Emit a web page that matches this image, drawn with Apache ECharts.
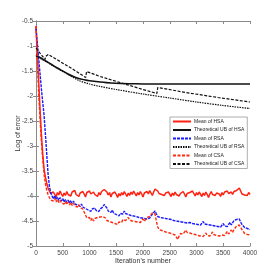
<!DOCTYPE html>
<html><head><meta charset="utf-8">
<script src="https://cdn.jsdelivr.net/npm/echarts@6/dist/echarts.min.js"></script>
<style>html,body{margin:0;padding:0;background:#fff}#c{width:277px;height:277px}</style>
</head><body><div id="c"></div>
<script>
// iteration step between samples of the noisy mean curves
const STEP = 25;
const xTicks = [0, 500, 1000, 1500, 2000, 2500, 3000, 3500, 4000];
const yTicks = [-5, -4.5, -4, -3.5, -3, -2.5, -2, -1.5, -1, -0.5];

const hsaMean = [
-0.60,-1.15,-1.70,-2.25,-2.75,-3.15,-3.45,-3.62,-3.74,-3.84,
-3.90,-3.95,-3.99,-3.92,-3.97,-4.02,-3.93,-3.98,-3.90,-3.96,
-4.01,-3.94,-3.99,-3.91,-3.97,-3.93,-4.00,-3.92,-3.96,-3.89,
-3.97,-3.93,-4.01,-3.94,-3.98,-3.91,-3.96,-4.02,-3.93,-3.97,
-3.90,-3.96,-4.00,-3.92,-3.97,-3.94,-4.01,-3.93,-3.98,-3.91,
-3.95,-3.87,-3.83,-3.92,-3.98,-3.93,-4.02,-3.95,-3.99,-3.92,
-3.97,-4.03,-3.95,-4.00,-3.93,-3.98,-3.91,-3.96,-4.01,-3.94,
-3.99,-3.92,-3.97,-3.90,-3.95,-4.00,-3.93,-3.98,-3.91,-3.96,
-4.02,-3.94,-3.98,-3.91,-3.96,-3.89,-3.94,-3.99,-3.92,-3.86,
-3.82,-3.90,-3.95,-3.91,-3.97,-3.93,-3.99,-3.94,-3.98,-3.92,
-3.96,-4.01,-3.94,-3.99,-3.92,-3.97,-3.93,-4.00,-3.95,-3.98,
-3.91,-3.96,-4.02,-3.95,-3.99,-3.93,-3.97,-3.90,-3.95,-4.00,
-3.93,-3.98,-3.92,-3.96,-4.01,-3.94,-3.99,-3.92,-3.97,-4.03,
-3.96,-3.91,-3.97,-3.93,-3.99,-3.94,-3.90,-3.96,-4.01,-3.93,
-3.98,-3.92,-3.96,-3.90,-3.95,-3.99,-3.92,-3.97,-3.91,-3.94,
-3.89,-3.93,-3.84,-3.90,-3.96,-3.92,-3.98,-3.94,-3.99,-3.93,
-3.97];

const rsaMean = [
-0.65,-0.95,-1.25,-1.55,-1.85,-2.12,-2.38,-2.75,-3.15,-3.55,
-3.80,-3.93,-4.00,-4.06,-3.99,-4.07,-4.02,-4.09,-4.03,-4.10,
-4.05,-4.12,-4.07,-4.13,-4.08,-4.14,-4.09,-4.15,-4.10,-4.16,
-4.12,-4.18,-4.14,-4.21,-4.16,-4.22,-4.19,-4.25,-4.22,-4.28,
-4.25,-4.31,-4.26,-4.30,-4.24,-4.29,-4.25,-4.31,-4.26,-4.29,
-4.22,-4.17,-4.14,-4.24,-4.30,-4.26,-4.33,-4.28,-4.34,-4.30,
-4.37,-4.33,-4.40,-4.35,-4.31,-4.36,-4.30,-4.35,-4.32,-4.37,
-4.33,-4.39,-4.35,-4.40,-4.36,-4.41,-4.37,-4.43,-4.39,-4.44,
-4.40,-4.45,-4.41,-4.46,-4.42,-4.44,-4.40,-4.36,-4.33,-4.30,
-4.36,-4.41,-4.38,-4.43,-4.39,-4.44,-4.40,-4.45,-4.41,-4.46,
-4.42,-4.47,-4.43,-4.49,-4.45,-4.50,-4.46,-4.51,-4.47,-4.52,
-4.48,-4.53,-4.49,-4.54,-4.50,-4.53,-4.49,-4.55,-4.51,-4.56,
-4.52,-4.57,-4.53,-4.58,-4.54,-4.51,-4.56,-4.52,-4.57,-4.53,
-4.58,-4.54,-4.59,-4.55,-4.60,-4.56,-4.61,-4.57,-4.62,-4.58,
-4.55,-4.60,-4.56,-4.61,-4.57,-4.53,-4.58,-4.54,-4.49,-4.53,
-4.47,-4.51,-4.46,-4.52,-4.57,-4.60,-4.63,-4.60,-4.65,-4.62,
-4.67];

const csaMean = [
-0.60,-1.30,-1.95,-2.45,-2.90,-3.25,-3.55,-3.75,-3.88,-3.97,
-4.03,-4.08,-4.04,-4.10,-4.05,-4.12,-4.07,-4.13,-4.08,-4.14,
-4.10,-4.16,-4.11,-4.17,-4.12,-4.18,-4.13,-4.19,-4.14,-4.20,
-4.16,-4.22,-4.17,-4.23,-4.19,-4.26,-4.30,-4.38,-4.44,-4.48,
-4.43,-4.49,-4.44,-4.50,-4.45,-4.48,-4.43,-4.47,-4.42,-4.46,
-4.41,-4.38,-4.44,-4.49,-4.45,-4.51,-4.47,-4.53,-4.49,-4.55,
-4.51,-4.57,-4.52,-4.48,-4.53,-4.47,-4.44,-4.49,-4.45,-4.43,
-4.48,-4.44,-4.50,-4.46,-4.51,-4.47,-4.52,-4.48,-4.53,-4.49,
-4.46,-4.51,-4.47,-4.43,-4.46,-4.41,-4.38,-4.34,-4.31,-4.36,
-4.50,-4.62,-4.67,-4.63,-4.69,-4.65,-4.71,-4.67,-4.73,-4.69,
-4.74,-4.70,-4.76,-4.72,-4.78,-4.74,-4.87,-4.80,-4.75,-4.71,
-4.76,-4.72,-4.68,-4.73,-4.69,-4.74,-4.70,-4.76,-4.72,-4.77,
-4.73,-4.79,-4.75,-4.80,-4.76,-4.81,-4.77,-4.74,-4.79,-4.75,
-4.80,-4.76,-4.72,-4.77,-4.73,-4.79,-4.75,-4.80,-4.76,-4.78,
-4.74,-4.79,-4.75,-4.71,-4.76,-4.72,-4.68,-4.73,-4.67,-4.64,
-4.60,-4.64,-4.58,-4.62,-4.67,-4.71,-4.75,-4.72,-4.77,-4.74,
-4.78];

// theoretical upper bounds: [iteration, log error]
const hsaUB = [[0,-1.18],[100,-1.245],[200,-1.31],[300,-1.375],[400,-1.44],[500,-1.50],[600,-1.56],[700,-1.61],[800,-1.65],[900,-1.675],[1000,-1.695],[1200,-1.72],[1400,-1.74],[1600,-1.75],[1800,-1.755],[2000,-1.76],[4000,-1.76]];
const rsaUB = [[0,-1.20],[200,-1.32],[400,-1.45],[600,-1.57],[800,-1.69],[1000,-1.76],[1200,-1.81],[1500,-1.87],[2000,-1.96],[2500,-2.04],[3000,-2.12],[3500,-2.19],[4000,-2.25]];
const csaUB = [[0,-1.04],[80,-1.15],[170,-1.27],[180,-1.21],[230,-1.17],[450,-1.31],[700,-1.47],[930,-1.63],[945,-1.51],[1200,-1.61],[1600,-1.74],[2000,-1.87],[2260,-1.95],[2275,-1.83],[2800,-1.93],[3400,-2.03],[4000,-2.12]];

function pairs(arr){ return arr.map((v,i)=>[i*STEP, v]); }

const FONT = 'Liberation Sans';
const chart = echarts.init(document.getElementById('c'), null, {renderer:'canvas'});
const axisCommon = {
  axisLine:{show:true, lineStyle:{color:'#8a8a8a', width:1}},
  axisTick:{show:true, inside:true, length:3, lineStyle:{color:'#8a8a8a'}},
  splitLine:{show:false}
};
chart.setOption({
  animation:false,
  backgroundColor:'#fff',
  grid:{left:36, right:27, top:21, bottom:31, containLabel:false},
  xAxis:[
    Object.assign({type:'value', min:xTicks[0], max:xTicks[xTicks.length-1], interval:500,
      name:"Iteration's number", nameLocation:'middle', nameGap:12, nameMoveOverlap:false,
      nameTextStyle:{fontFamily:FONT, fontSize:7, color:'#333'},
      axisLabel:{fontFamily:FONT, fontSize:6.5, color:'#444', margin:4, formatter:v=>String(v)}}, axisCommon),
    Object.assign({type:'value', position:'top', min:xTicks[0], max:xTicks[xTicks.length-1], interval:500,
      axisLabel:{show:false}}, axisCommon)
  ],
  yAxis:[
    Object.assign({type:'value', min:yTicks[0], max:yTicks[yTicks.length-1], interval:0.5,
      name:'Log of error', nameLocation:'middle', nameGap:14, nameMoveOverlap:false,
      nameTextStyle:{fontFamily:FONT, fontSize:7, color:'#333'},
      axisLabel:{fontFamily:FONT, fontSize:6.5, color:'#444', margin:3, formatter:v=>String(v)}}, axisCommon),
    Object.assign({type:'value', position:'right', min:yTicks[0], max:yTicks[yTicks.length-1], interval:0.5,
      axisLabel:{show:false}}, axisCommon)
  ],
  legend:{
    orient:'vertical', left:170, top:117, itemWidth:18, itemHeight:6, itemGap:3.5,
    padding:[2,3,2,2], backgroundColor:'#fff', borderColor:'#9a9a9a', borderWidth:0.8, borderRadius:0,
    itemStyle:{opacity:0, borderWidth:0},
    textStyle:{fontFamily:FONT, fontSize:5, color:'#222', padding:[0,0,0,-2]},
    data:['Mean of HSA','Theoretical UB of HSA','Mean of RSA','Theoretical UB of RSA','Mean of CSA','Theoretical UB of CSA']
  },
  series:[
    {name:'Mean of HSA', type:'line', data:pairs(hsaMean), showSymbol:false, symbol:'none',
      lineStyle:{color:'#ff2010', width:1.5}, itemStyle:{color:'#ff2010'}, z:2},
    {name:'Theoretical UB of HSA', type:'line', data:hsaUB, showSymbol:false, symbol:'none', smooth:0.3,
      lineStyle:{color:'#111', width:1.5}, itemStyle:{color:'#111'}, z:3},
    {name:'Mean of RSA', type:'line', data:pairs(rsaMean), showSymbol:false, symbol:'none',
      lineStyle:{color:'#1a1aff', width:1.4, type:[3,1]}, itemStyle:{color:'#1a1aff'}, z:4},
    {name:'Theoretical UB of RSA', type:'line', data:rsaUB, showSymbol:false, symbol:'none', smooth:0.3,
      lineStyle:{color:'#111', width:1.2, type:[1.5,1]}, itemStyle:{color:'#111'}, z:5},
    {name:'Mean of CSA', type:'line', data:pairs(csaMean), showSymbol:false, symbol:'none',
      lineStyle:{color:'#ff2a10', width:1.4, type:[3,1.5]}, itemStyle:{color:'#ff2a10'}, z:6},
    {name:'Theoretical UB of CSA', type:'line', data:csaUB, showSymbol:false, symbol:'none',
      lineStyle:{color:'#111', width:1.2, type:[3,1.5]}, itemStyle:{color:'#111'}, z:7}
  ]
});
</script>
</body></html>
